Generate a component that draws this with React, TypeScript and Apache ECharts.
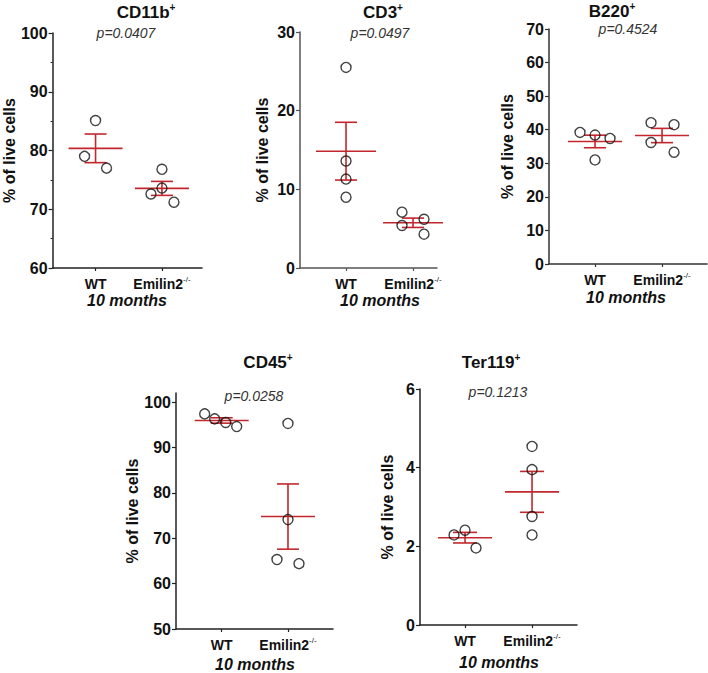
import React, { useEffect, useRef } from "react";
import * as echarts from "echarts";

// ---------- data ----------
const groups = ["WT", "Emilin2"];
const markers = ["CD11b", "CD3", "B220", "CD45", "Ter119"];
const pValues = ["p=0.0407", "p=0.0497", "p=0.4524", "p=0.0258", "p=0.1213"];
const subtitle = "10 months";
const yAxisName = "% of live cells";

const cd11bWT = [85.1, 79.0, 77.0];
const cd11bKO = [76.8, 72.6, 73.6, 71.2];
const cd3WT = [25.5, 13.6, 11.3, 9.0];
const cd3KO = [7.1, 5.4, 6.2, 4.3];
const b220WT = [39.2, 38.4, 37.4, 31.0];
const b220KO = [42.1, 41.5, 36.2, 33.3];
const cd45WT = [97.4, 96.3, 95.5, 94.6];
const cd45KO = [95.3, 74.1, 65.3, 64.4];
const ter119WT = [2.29, 2.41, 1.96];
const ter119KO = [4.54, 3.95, 2.76, 2.29];

const yTicks1 = [60, 70, 80, 90, 100];
const yTicks2 = [0, 10, 20, 30];
const yTicks3 = [0, 10, 20, 30, 40, 50, 60, 70];
const yTicks4 = [50, 60, 70, 80, 90, 100];
const yTicks5 = [0, 2, 4, 6];

// ---------- layout (pixel offsets of dots, styles) ----------
const jitter1 = [[0, -11, 11], [0, -11, 0, 12]];
const jitter2 = [[0, 0, 0, 0], [-11, -11, 11, 11]];
const jitter3 = [[-15, 0, 15, 0], [-11, 12, -11, 12]];
const jitter4 = [[-17, -7, 4, 15], [0, 0, -11, 11]];
const jitter5 = [[-11, 0, 11], [0, 0, 0, 0]];

const FONT = "'Liberation Sans', Arial, Helvetica, sans-serif";
const RED = "#c1272d";
const INK = "#111";

const panels = [
  { wt: cd11bWT, ko: cd11bKO, jit: jitter1, ticks: yTicks1, ymin: 60, ymax: 100, grid: { left: 49, top: 33, width: 153, height: 235 }, xmin: 0.353, xmax: 2.603, nameGap: 34, axisColor: "#222", minor: true, meanHW: 27, capHW: 11, titlePos: [146, 12], pPos: [126, 33], subPos: [127, 300] },
  { wt: cd3WT, ko: cd3KO, jit: jitter2, ticks: yTicks2, ymin: 0, ymax: 30, grid: { left: 300, top: 32, width: 137, height: 236 }, xmin: 0.313, xmax: 2.358, nameGap: 30, axisColor: "#555", minor: false, meanHW: 30, capHW: 11, titlePos: [383, 12], pPos: [380, 33], subPos: [380, 300] },
  { wt: b220WT, ko: b220KO, jit: jitter3, ticks: yTicks3, ymin: 0, ymax: 70, grid: { left: 549, top: 29, width: 158, height: 235 }, xmin: 0.313, xmax: 2.671, nameGap: 34, axisColor: "#333", minor: false, meanHW: 27, capHW: 11, titlePos: [612, 11], pPos: [628, 29], subPos: [626, 297] },
  { wt: cd45WT, ko: cd45KO, jit: jitter4, ticks: yTicks4, ymin: 50, ymax: 102, grid: { left: 176, top: 393, width: 157, height: 236 }, xmin: 0.311, xmax: 2.679, nameGap: 35, axisColor: "#222", minor: false, meanHW: 27, capHW: 11, titlePos: [268, 362], pPos: [254, 396], subPos: [255, 664] },
  { wt: ter119WT, ko: ter119KO, jit: jitter5, ticks: yTicks5, ymin: 0, ymax: 6, grid: { left: 420, top: 389, width: 157, height: 236 }, xmin: 0.328, xmax: 2.671, nameGap: 25, axisColor: "#222", minor: false, meanHW: 27, capHW: 12, titlePos: [491, 362], pPos: [498, 392], subPos: [499, 662] },
];

function mean(a: number[]) {
  return a.reduce((s, v) => s + v, 0) / a.length;
}
function sem(a: number[]) {
  const m = mean(a);
  const v = a.reduce((s, x) => s + (x - m) * (x - m), 0) / (a.length - 1);
  return Math.sqrt(v / a.length);
}

function buildOption() {
  const grid: any[] = [];
  const xAxis: any[] = [];
  const yAxis: any[] = [];
  const series: any[] = [];
  const graphic: any[] = [];

  panels.forEach((p, i) => {
    grid.push({ ...p.grid, containLabel: false });
    xAxis.push({
      type: "value",
      gridIndex: i,
      min: p.xmin,
      max: p.xmax,
      splitLine: { show: false },
      axisLine: { show: true, lineStyle: { color: p.axisColor, width: 1.5 } },
      axisTick: { show: true, customValues: [1, 2], length: 3, inside: false, lineStyle: { color: p.axisColor, width: 1.2 } },
      axisLabel: {
        show: true,
        customValues: [1, 2],
        margin: 7,
        formatter: (v: number) => (Math.round(v) === 1 ? "{b|" + groups[0] + "}" : "{b|" + groups[1] + "}{s|-/-}"),
        rich: {
          b: { fontFamily: FONT, fontWeight: "bold", fontSize: 14, color: INK, lineHeight: 17 },
          s: { fontFamily: FONT, fontSize: 8, color: INK, verticalAlign: "top", lineHeight: 17, padding: [0, 0, 7, 0] },
        },
      },
    });
    yAxis.push({
      type: "value",
      gridIndex: i,
      min: p.ymin,
      max: p.ymax,
      name: yAxisName,
      nameLocation: "middle",
      nameRotate: 90,
      nameGap: p.nameGap,
      nameTextStyle: { fontFamily: FONT, fontWeight: "bold", fontSize: 16, color: INK },
      splitLine: { show: false },
      axisLine: { show: true, lineStyle: { color: p.axisColor, width: 1.5 } },
      axisTick: { show: true, customValues: p.ticks, length: 4, lineStyle: { color: p.axisColor, width: 1.2 } },
      minorTick: { show: p.minor, splitNumber: 2, length: 2, lineStyle: { color: p.axisColor, width: 1 } },
      axisLabel: {
        show: true,
        customValues: p.ticks,
        margin: 5,
        fontFamily: FONT,
        fontWeight: "bold",
        fontSize: 16,
        color: INK,
      },
    });

    const stats = [
      [1, mean(p.wt), sem(p.wt)],
      [2, mean(p.ko), sem(p.ko)],
    ];
    const meanHW = p.meanHW;
    const capHW = p.capHW;
    series.push({
      type: "custom",
      xAxisIndex: i,
      yAxisIndex: i,
      clip: false,
      encode: { x: 0, y: 1 },
      data: stats,
      z: 2,
      renderItem: (params: any, api: any) => {
        const x = api.value(0);
        const m = api.value(1);
        const s = api.value(2);
        const c = api.coord([x, m]);
        const t = api.coord([x, m + s]);
        const b = api.coord([x, m - s]);
        const style = { stroke: RED, lineWidth: 1.6, fill: null };
        return {
          type: "group",
          children: [
            { type: "line", shape: { x1: c[0] - meanHW, y1: c[1], x2: c[0] + meanHW, y2: c[1] }, style },
            { type: "line", shape: { x1: c[0] - capHW, y1: t[1], x2: c[0] + capHW, y2: t[1] }, style },
            { type: "line", shape: { x1: c[0] - capHW, y1: b[1], x2: c[0] + capHW, y2: b[1] }, style },
            { type: "line", shape: { x1: c[0], y1: t[1], x2: c[0], y2: b[1] }, style },
          ],
        };
      },
    });

    const pts: any[] = [];
    p.wt.forEach((v, k) => pts.push({ value: [1, v], symbolOffset: [p.jit[0][k], 0] }));
    p.ko.forEach((v, k) => pts.push({ value: [2, v], symbolOffset: [p.jit[1][k], 0] }));
    series.push({
      type: "scatter",
      xAxisIndex: i,
      yAxisIndex: i,
      data: pts,
      symbol: "circle",
      symbolSize: 10,
      z: 3,
      itemStyle: { color: "rgba(0,0,0,0)", borderColor: INK, borderWidth: 1.4 },
      emphasis: { disabled: true },
    });

    graphic.push({
      type: "text",
      x: p.titlePos[0],
      y: p.titlePos[1],
      style: {
        text: "{t|" + markers[i] + "}{s|+}",
        align: "center",
        verticalAlign: "middle",
        rich: {
          t: { fontFamily: FONT, fontWeight: "bold", fontSize: 17, fill: INK, lineHeight: 20 },
          s: { fontFamily: FONT, fontWeight: "bold", fontSize: 10, fill: INK, verticalAlign: "top", lineHeight: 20, padding: [0, 0, 8, 0] },
        },
      },
    });
    graphic.push({
      type: "text",
      x: p.pPos[0],
      y: p.pPos[1],
      style: {
        text: pValues[i],
        align: "center",
        verticalAlign: "middle",
        font: "italic 14px " + FONT,
        fill: "#333",
      },
    });
    graphic.push({
      type: "text",
      x: p.subPos[0],
      y: p.subPos[1],
      style: {
        text: subtitle,
        align: "center",
        verticalAlign: "middle",
        font: "italic bold 16px " + FONT,
        fill: INK,
      },
    });
  });

  return {
    animation: false,
    backgroundColor: "#fff",
    grid,
    xAxis,
    yAxis,
    series,
    graphic,
  };
}

export default function App() {
  const ref = useRef<HTMLDivElement>(null);
  useEffect(() => {
    document.body.style.margin = "0";
    const chart = echarts.init(ref.current as HTMLDivElement, undefined, { renderer: "svg" });
    chart.setOption(buildOption() as any);
    return () => chart.dispose();
  }, []);
  return <div ref={ref} style={{ width: 708, height: 673, position: "absolute", left: 0, top: 0 }} />;
}
